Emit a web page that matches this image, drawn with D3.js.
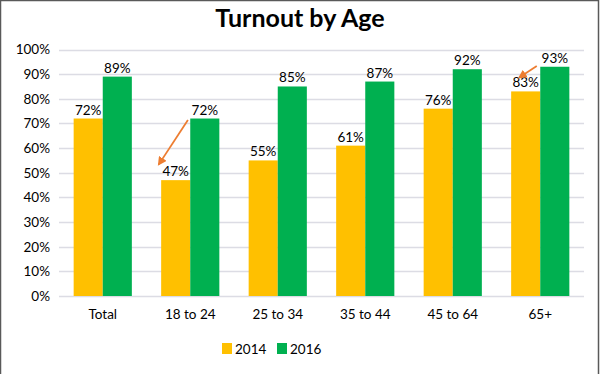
<!DOCTYPE html>
<html>
<head>
<meta charset="utf-8">
<title>Turnout by Age</title>
<script src="https://cdn.jsdelivr.net/npm/d3@7"></script>
<style>
  body { margin: 0; background: #fff; }
  text { font-family: Lato, "Open Sans", sans-serif; fill: #000; }
</style>
</head>
<body>
<svg width="600" height="374" id="mainsvg"></svg>
<script>
const categories = ['Total', '18 to 24', '25 to 34', '35 to 44', '45 to 64', '65+'];
const series = ['2014', '2016'];
const values2014 = [72, 47, 55, 61, 76, 83];
const values2016 = [89, 72, 85, 87, 92, 93];
const yTicks = [0, 10, 20, 30, 40, 50, 60, 70, 80, 90, 100];
// annotation arrows: [category, value], dx is offset from group centre in band widths
const arrows = [
  { from: ['18 to 24', 71.4], fromDx: -0.04, to: ['18 to 24', 53.4], toDx: -0.54 },
  { from: ['65+', 93.3], fromDx: -0.06, to: ['65+', 88.6], toDx: -0.36 }
];

const svg = d3.select('#mainsvg');
const width = +svg.attr('width');
const height = +svg.attr('height');
const colors = { '2014': '#FFC000', '2016': '#00B050' };
const fontSize = '13.5px';

const margin = { left: 59, right: 16, top: 49.5, bottom: 78 };

// frame
svg.append('rect')
  .attr('x', 0.5).attr('y', 0.5)
  .attr('width', 598).attr('height', height + 2)
  .attr('fill', '#fff').attr('stroke', '#595959').attr('stroke-width', 1.5);

const x = d3.scaleBand().domain(categories)
  .range([margin.left, width - margin.right])
  .paddingInner(0.335).paddingOuter(0.1675);
const xSub = d3.scaleBand().domain(series).range([0, x.bandwidth()]);
const y = d3.scaleLinear().domain([0, 100]).range([296, margin.top]);

// grid
svg.append('g').selectAll('line').data(yTicks).join('line')
  .attr('x1', margin.left).attr('x2', width - margin.right)
  .attr('y1', d => Math.round(y(d)) + 0.5).attr('y2', d => Math.round(y(d)) + 0.5)
  .attr('stroke', '#dcdce4').attr('stroke-width', 1.3);

// y axis labels
const yAxis = d3.axisLeft(y).tickValues(yTicks).tickFormat(d => d + '%').tickSize(0).tickPadding(9);
svg.append('g').attr('transform', `translate(${margin.left},0)`).call(yAxis)
  .call(g => g.select('.domain').remove())
  .selectAll('text').style('font-size', fontSize).style('font-family', 'Lato, sans-serif').attr('fill', '#000');

// x axis labels
const xAxis = d3.axisBottom(x).tickSize(0).tickPadding(13);
svg.append('g').attr('transform', 'translate(0,296)').call(xAxis)
  .call(g => g.select('.domain').remove())
  .selectAll('text').style('font-size', fontSize).style('font-family', 'Lato, sans-serif').attr('fill', '#000');

// bars
const rows = categories.map((c, i) => ({ cat: c, vals: [
  { s: '2014', v: values2014[i] }, { s: '2016', v: values2016[i] }] }));

const groups = svg.append('g').selectAll('g').data(rows).join('g')
  .attr('transform', d => `translate(${x(d.cat)},0)`);

groups.selectAll('rect').data(d => d.vals).join('rect')
  .attr('x', d => xSub(d.s)).attr('width', xSub.bandwidth())
  .attr('y', d => y(d.v)).attr('height', d => y(0) - y(d.v))
  .attr('fill', d => colors[d.s]);

groups.selectAll('text').data(d => d.vals).join('text')
  .attr('x', d => xSub(d.s) + xSub.bandwidth() / 2)
  .attr('y', d => y(d.v) - 4)
  .attr('text-anchor', 'middle')
  .style('font-size', fontSize)
  .text(d => d.v + '%');

// arrows
svg.append('defs').append('marker')
  .attr('id', 'head').attr('viewBox', '0 0 10 10')
  .attr('refX', 8).attr('refY', 5)
  .attr('markerWidth', 5).attr('markerHeight', 5)
  .attr('orient', 'auto')
  .append('path').attr('d', 'M0,0 L10,5 L0,10 z').attr('fill', '#ED7D31');

svg.append('g').selectAll('line').data(arrows).join('line')
  .attr('x1', d => x(d.from[0]) + x.bandwidth() * (0.5 + d.fromDx))
  .attr('y1', d => y(d.from[1]))
  .attr('x2', d => x(d.to[0]) + x.bandwidth() * (0.5 + d.toDx))
  .attr('y2', d => y(d.to[1]))
  .attr('stroke', '#ED7D31').attr('stroke-width', 1.8)
  .attr('marker-end', 'url(#head)');

// title
svg.append('text')
  .attr('x', width / 2).attr('y', 27)
  .attr('text-anchor', 'middle')
  .style('font-size', '25px').style('font-weight', 'bold')
  .text('Turnout by Age');

// legend
const legend = svg.append('g').selectAll('g').data(series).join('g')
  .attr('transform', (d, i) => `translate(${222 + i * 55},343)`);
legend.append('rect').attr('width', 10).attr('height', 11).attr('fill', d => colors[d]);
legend.append('text').attr('x', 13).attr('y', 10.5)
  .style('font-size', fontSize).text(d => d);
</script>
</body>
</html>
